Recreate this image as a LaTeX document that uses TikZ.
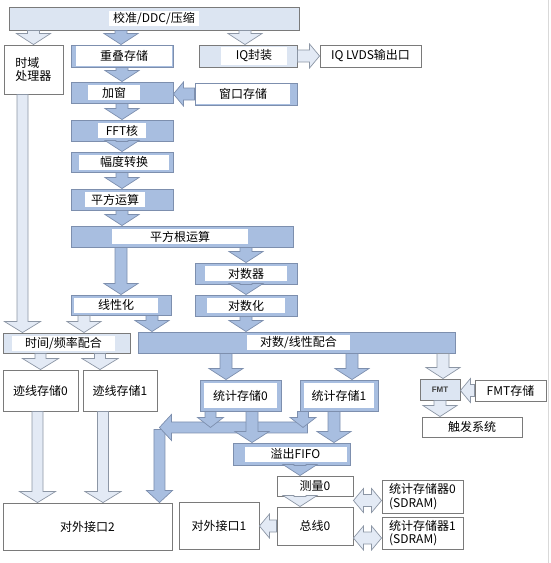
\documentclass[tikz,border=0pt]{standalone}
\usepackage{fontspec}
\newfontfamily\cjk{Noto Sans CJK SC}
\newfontfamily\lsans{Liberation Sans}
\usetikzlibrary{calc}
\definecolor{dkfill}{HTML}{A8BEE0}
\definecolor{dkline}{HTML}{7D8FAE}
\definecolor{ltfill}{HTML}{E3EAF5}
\definecolor{ltline}{HTML}{8C96A5}
\definecolor{boxline}{HTML}{7A7A7A}
\definecolor{lbfill}{HTML}{DCE5F2}
\def\sw{6pt}\def\hw{17pt}\def\hl{11pt}
% down arrow: x from #2, tip y from #3
\newcommand\darr[3][]{\draw[#1] let \p1=#2, \p2=#3 in (\x1-\sw,\y1) -- (\x1-\sw,\y2+\hl) -- (\x1-\hw,\y2+\hl) -- (\x1,\y2) -- (\x1+\hw,\y2+\hl) -- (\x1+\sw,\y2+\hl) -- (\x1+\sw,\y1) -- cycle;}
% left arrow: y from #2, tip x from #3
\newcommand\larr[3][]{\draw[#1] let \p1=#2, \p2=#3 in (\x1,\y1+\sw) -- (\x2+\hl,\y1+\sw) -- (\x2+\hl,\y1+\hw) -- (\x2,\y1) -- (\x2+\hl,\y1-\hw) -- (\x2+\hl,\y1-\sw) -- (\x1,\y1-\sw) -- cycle;}
% right arrow
\newcommand\rarr[3][]{\draw[#1] let \p1=#2, \p2=#3 in (\x1,\y1+\sw) -- (\x2-\hl,\y1+\sw) -- (\x2-\hl,\y1+\hw) -- (\x2,\y1) -- (\x2-\hl,\y1-\hw) -- (\x2-\hl,\y1-\sw) -- (\x1,\y1-\sw) -- cycle;}
% double arrow
\newcommand\lrarr[3][]{\draw[#1] let \p1=#2, \p2=#3 in (\x1,\y1) -- (\x1+\hl,\y1+\hw) -- (\x1+\hl,\y1+\sw) -- (\x2-\hl,\y1+\sw) -- (\x2-\hl,\y1+\hw) -- (\x2,\y1) -- (\x2-\hl,\y1-\hw) -- (\x2-\hl,\y1-\sw) -- (\x1+\hl,\y1-\sw) -- (\x1+\hl,\y1-\hw) -- cycle;}
\begin{document}
\begin{tikzpicture}[x=1pt,y=-1pt,
  every node/.style={font=\cjk\fontsize{12}{13.5}\selectfont, text=black},
  dk/.style={draw=dkline, fill=dkfill, line width=0.7pt},
  lt/.style={draw=ltline, fill=ltfill, line width=0.7pt},
  wbox/.style={draw=boxline, fill=white, line width=0.9pt, inner sep=0pt},
  dkbox/.style={draw=dkline, fill=dkfill, line width=0.9pt, inner sep=0pt},
  lbox/.style={draw=boxline, fill=lbfill, line width=0.9pt, inner sep=0pt},
  wbg/.style={fill=white, inner sep=0pt, minimum height=15pt}]
\useasboundingbox (0,0) rectangle (550,563);
\draw[black!15, line width=0.8pt] (548,0) -- (548,563);
% ---- boxes ----
\node[lbox, minimum width=290, minimum height=23, label={[wbg, minimum width=90]center:校准/DDC/压缩}] (top) at (154,18.5) {};
\node[wbox, minimum width=59, minimum height=49, align=left] (sdp) at (33.5,69.5) {时域\\处理器};
\node[dkbox, minimum width=102, minimum height=22, label={[wbg, minimum width=96, minimum height=20, xshift=2]center:重叠存储}] (cd) at (122,56) {};
\node[lbox, minimum width=98, minimum height=22, label={[wbg, minimum width=66, minimum height=18, xshift=6]center:IQ封装}] (iq) at (248,56) {};
\node[wbox, minimum width=101, minimum height=22] (lvds) at (370.5,56) {IQ LVDS输出口};
\node[dkbox, minimum width=102, minimum height=21, label={[wbg, minimum width=52, xshift=-8]center:加窗}] (jc) at (122,92.5) {};
\node[dkbox, minimum width=102, minimum height=22, label={[wbg, minimum width=94, minimum height=20, xshift=-3]center:窗口存储}] (ck) at (246,94) {};
\node[dkbox, minimum width=102, minimum height=21, label={[wbg, minimum width=48]center:FFT核}] (fft) at (122,130.5) {};
\node[dkbox, minimum width=102, minimum height=20, label={[wbg, minimum width=90, xshift=2]center:幅度转换}] (fd) at (122,162) {};
\node[dkbox, minimum width=102, minimum height=21, label={[wbg, minimum width=60, xshift=-7]center:平方运算}] (pf) at (122,199.5) {};
\node[dkbox, minimum width=222, minimum height=21, label={[wbg, minimum width=136, xshift=-2]center:平方根运算}] (pfg) at (182,236.5) {};
\node[dkbox, minimum width=102, minimum height=21, label={[wbg, minimum width=82]center:对数器}] (dsq) at (246,273.5) {};
\node[dkbox, minimum width=100, minimum height=20, label={[wbg, minimum width=84, xshift=-5]center:线性化}] (xx) at (121,305) {};
\node[dkbox, minimum width=102, minimum height=21, label={[wbg, minimum width=78]center:对数化}] (dsh) at (246,305.5) {};
\node[lbox, minimum width=127, minimum height=20, label={[wbg, minimum width=103, xshift=-3]center:时间/频率配合}] (sp) at (66.5,343) {};
\node[dkbox, minimum width=317, minimum height=21, label={[wbg, minimum width=103, xshift=2]center:对数/线性配合}] (dx) at (296.5,342.5) {};
\node[wbox, minimum width=75, minimum height=41] (jx0) at (40.5,390.5) {迹线存储0};
\node[wbox, minimum width=74, minimum height=41] (jx1) at (120,390.5) {迹线存储1};
\node[dkbox, minimum width=81, minimum height=31, label={[wbg, minimum width=73, minimum height=25]center:统计存储0}] (tj0) at (240.5,395.5) {};
\node[dkbox, minimum width=78, minimum height=31, label={[wbg, minimum width=70, minimum height=25]center:统计存储1}] (tj1) at (339,395.5) {};
\node[lbox, minimum width=40, minimum height=21, font=\lsans\bfseries\fontsize{8}{9}\selectfont, text=black!75] (fmt) at (440,389.5) {FMT};
\node[wbox, minimum width=71, minimum height=21] (fmts) at (510.5,390.5) {FMT存储};
\node[wbox, minimum width=100, minimum height=20] (cf) at (472,427) {触发系统};
\node[dkbox, minimum width=117, minimum height=22, label={[wbg, minimum width=102, xshift=4]center:溢出FIFO}] (fifo) at (291.5,454) {};
\node[wbox, minimum width=76, minimum height=20] (cl) at (315,486) {测量0};
\node[wbox, minimum width=76, minimum height=38] (bus) at (315,526) {总线0};
\node[wbox, minimum width=81, minimum height=33, align=left] (sd0) at (422.5,496.5) {统计存储器0\\(SDRAM)};
\node[wbox, minimum width=81, minimum height=32, align=left] (sd1) at (422.5,533) {统计存储器1\\(SDRAM)};
\node[wbox, minimum width=169, minimum height=47] (if2) at (87.5,526.5) {对外接口2};
\node[wbox, minimum width=80, minimum height=47] (if1) at (219,525.5) {对外接口1};
\coordinate (bend) at ($(if2.north east)+(-13,-76)$);
% ---- arrows ----
\darr[lt]{(top.south -| sdp.north)}{(sdp.north)}
\darr[dk]{($(top.south -| cd.north)+(-1,0)$)}{(cd.north)}
\darr[lt]{($(top.south -| iq.north)+(-3,0)$)}{(iq.north)}
\darr[dk]{(cd.south)}{(jc.north)}
\darr[dk]{(jc.south)}{(fft.north)}
\darr[dk]{(fft.south)}{(fd.north)}
\darr[dk]{(fd.south)}{(pf.north)}
\darr[dk]{(pf.south)}{(pfg.north)}
\darr[dk]{(xx.north |- pfg.south)}{(xx.north)}
\darr[dk]{(dsq.north |- pfg.south)}{(dsq.north)}
\darr[dk]{(dsq.south)}{(dsh.north)}
\darr[dk]{(dsh.south)}{(dx.north)}
\darr[dk]{($(xx.south)+(31,0)$)}{(dx.north)}
\darr[lt]{($(xx.south)+(-37,0)$)}{(sp.north)}
\begingroup\def\sw{5.5pt}\def\hw{18pt}
\darr[lt]{($(sdp.south)+(-11,0)$)}{(sp.north)}
\darr[lt]{(jx0.north |- sp.south)}{(jx0.north)}
\darr[lt]{($(jx1.north |- sp.south)+(-20,0)$)}{(jx1.north)}
\darr[lt]{($(jx0.south)+(-3,0)$)}{(if2.north)}
\darr[lt]{($(jx1.south)+(-17,0)$)}{(if2.north)}
\endgroup
\darr[dk]{($(tj0.north |- dx.south)+(-14.5,0)$)}{(tj0.north)}
\darr[dk]{($(tj1.north |- dx.south)+(13,0)$)}{(tj1.north)}
\darr[lt]{($(fmt.north |- dx.south)+(3,0)$)}{(fmt.north)}
\begingroup\def\sw{5.5pt}\def\hw{13pt}\def\hl{12pt}
\darr[dk]{($(bend)+(0,3)$)}{(if2.north)}
\larr[dk]{($(tj1.south west)+(8,16)$)}{(bend)}
\endgroup
\begingroup\def\sw{5.5pt}\def\hw{13pt}\def\hl{10pt}
\darr[dk]{($(tj0.south)+(-30,0)$)}{($(tj0.south)+(0,16)$)}
\darr[dk]{($(tj1.south)+(-36,0)$)}{($(tj1.south)+(0,16)$)}
\endgroup
\darr[dk]{($(tj0.south)+(11.5,0)$)}{(fifo.north)}
\darr[dk]{($(tj1.south)+(-5,0)$)}{(fifo.north)}
\darr[lt]{(fmt.south)}{(cf.north)}
\darr[dk]{($(cl.north |- fifo.south)+(-15,0)$)}{(cl.north)}
\darr[lt]{($(cl.south)+(-15,0)$)}{(bus.north)}
\begingroup\def\sw{6pt}\def\hw{12pt}\def\hl{10pt}
\larr[dk]{(ck.west)}{(jc.east)}
\rarr[lt]{(iq.east)}{(lvds.west)}
\larr[lt]{(fmts.west)}{(fmt.east)}
\larr[lt]{(bus.west)}{(if1.east)}
\lrarr[lt]{($(bus.east |- sd0.west)+(0,4)$)}{(sd0.west)}
\lrarr[lt]{($(bus.east |- sd1.west)+(0,5)$)}{(sd1.west)}
\endgroup
\end{tikzpicture}
\end{document}
